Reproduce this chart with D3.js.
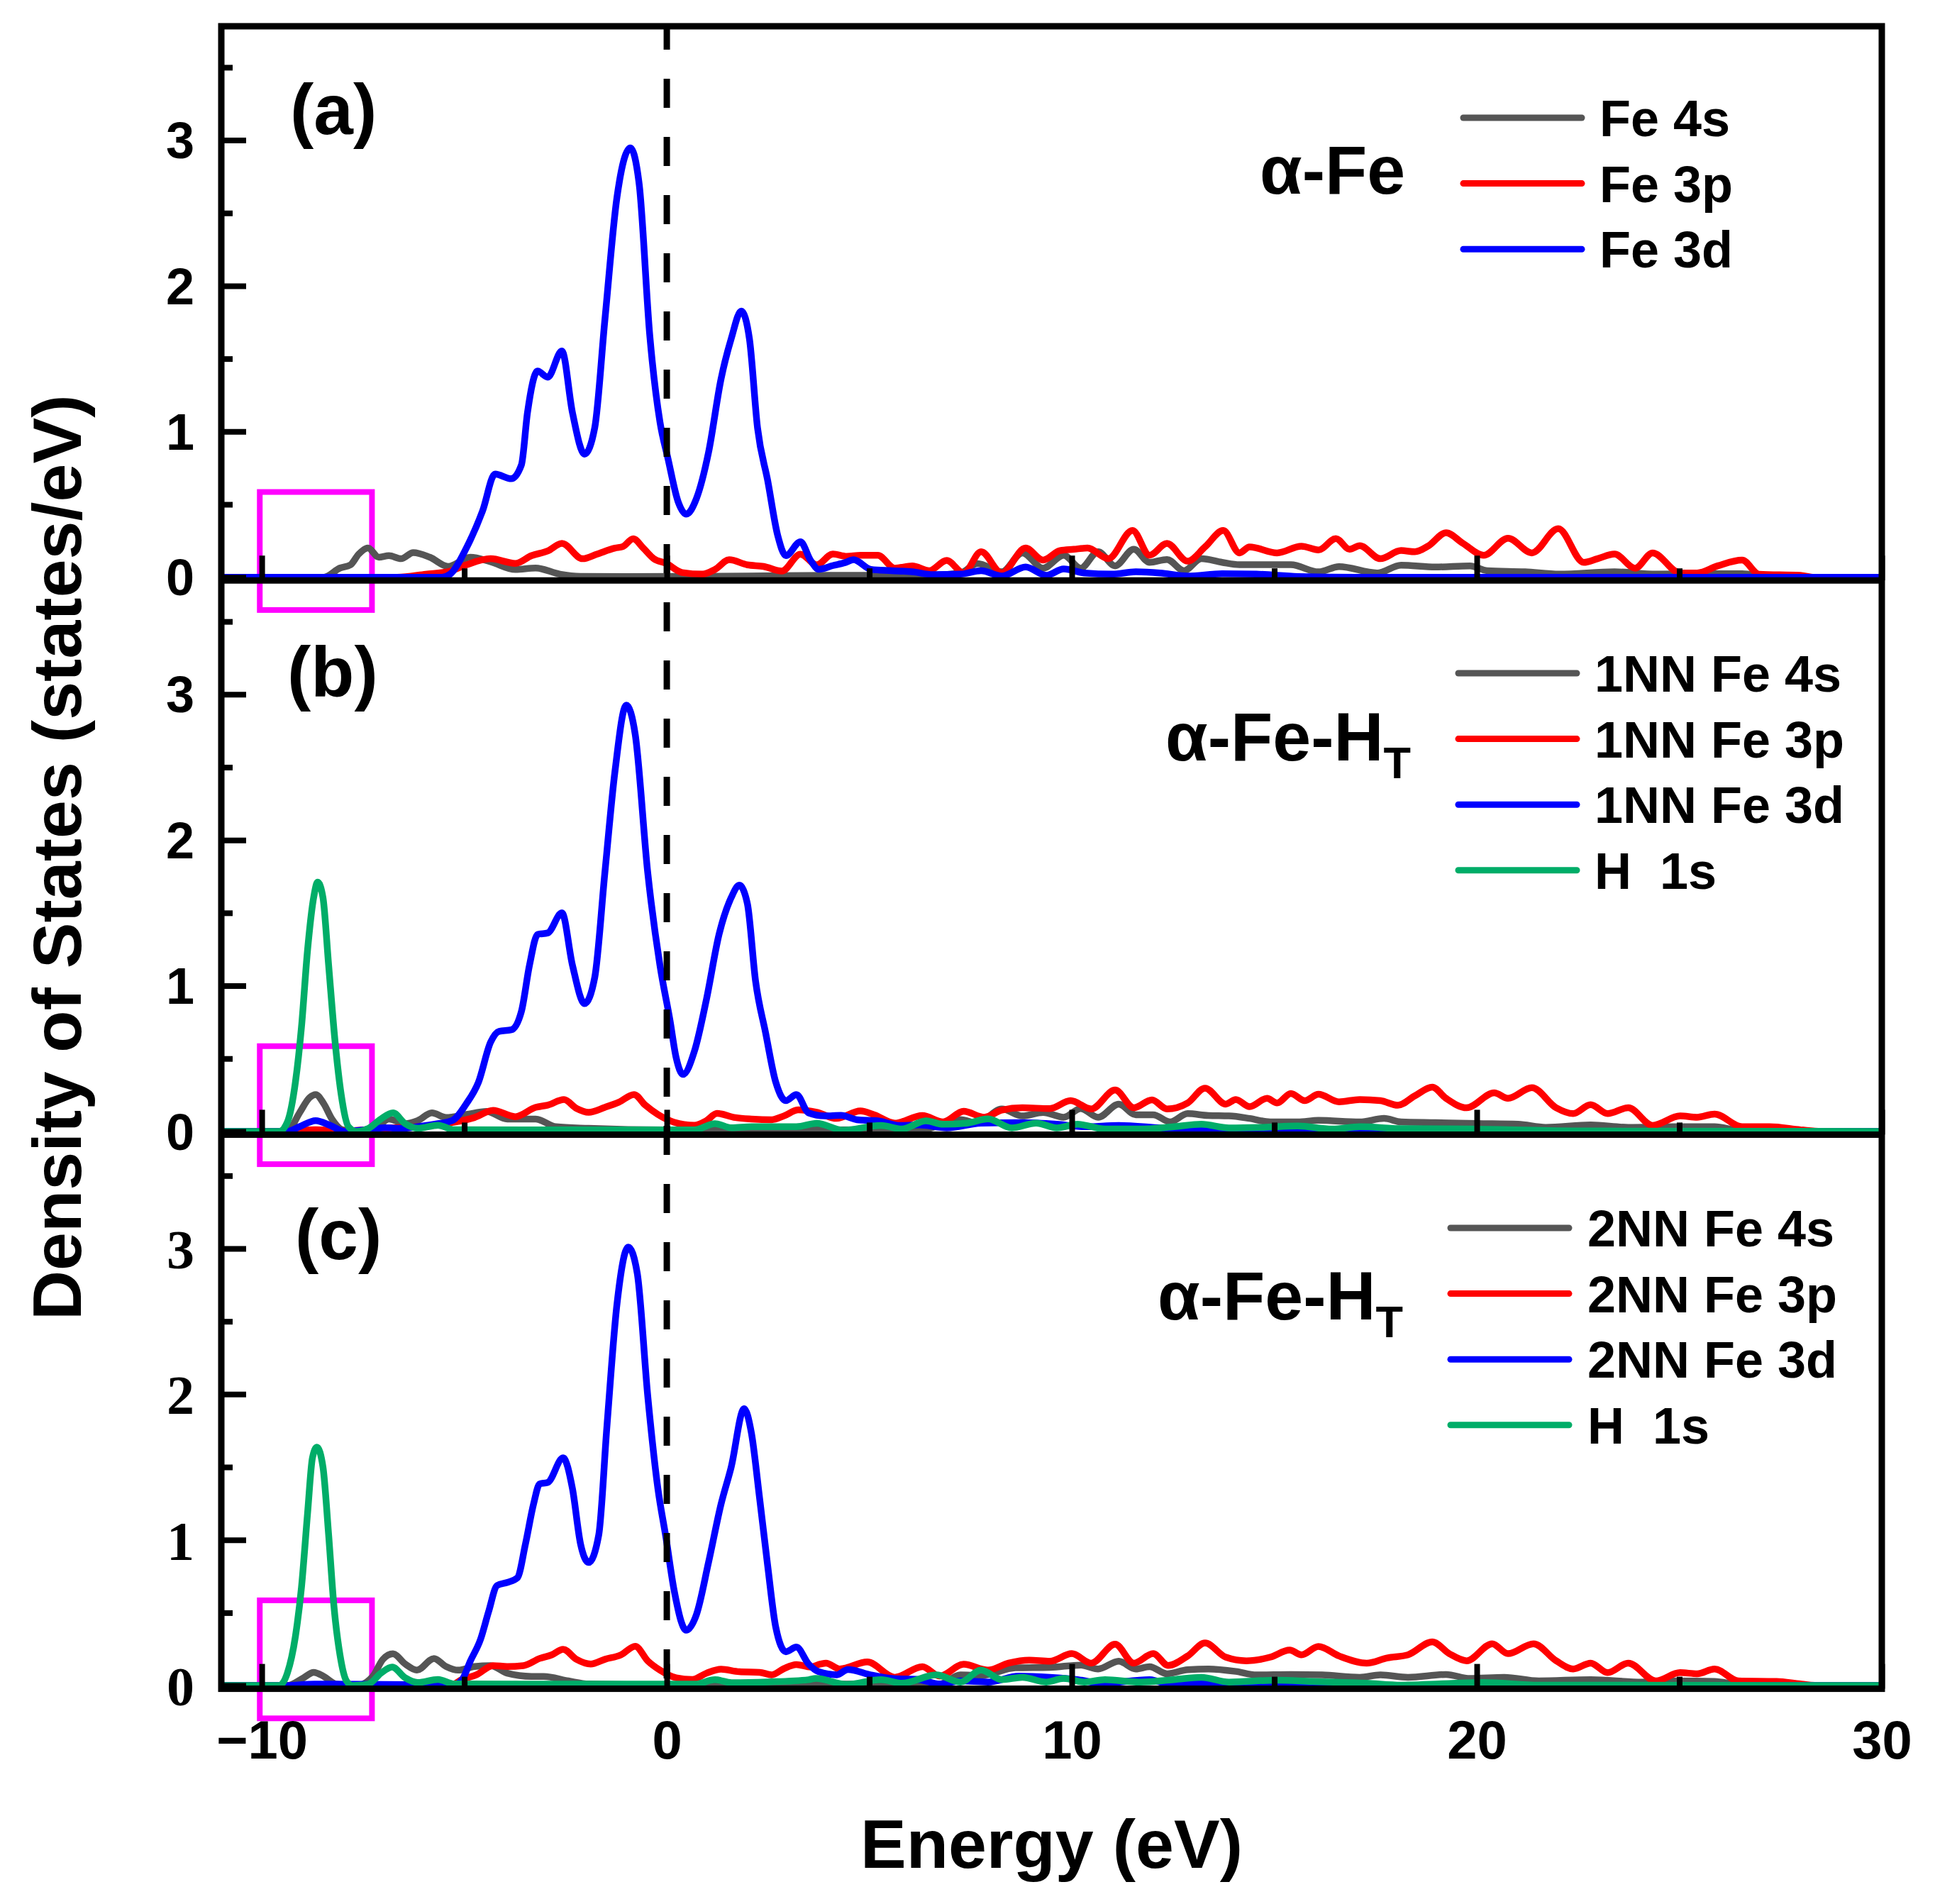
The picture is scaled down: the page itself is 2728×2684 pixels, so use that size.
<!DOCTYPE html>
<html>
<head>
<meta charset="utf-8">
<script src="https://cdn.jsdelivr.net/npm/d3@7"></script>
<style>
  body { margin: 0; background: #fff; }
  svg { display: block; }
</style>
</head>
<body>
<script>
// ---- data: [energy (eV), DOS (states/eV)] ----
const energyDomain = [-11, 30];
const dosDomain = [-0.022, 3.782];
const xMajor = [-10, 0, 10, 20, 30];
const xMinor = [-5, 5, 15, 25];
const yMajor = [0, 1, 2, 3];
const yMinor = [0.5, 1.5, 2.5, 3.5];
const boxEnergy = [-10.05, -7.28];
const boxDos = [-0.225, 0.585];

// (a) alpha-Fe
const aFe4s = [[-11,0],[-8.47,0],[-8.07,0.063],[-7.81,0.085],[-7.61,0.158],[-7.38,0.2],[-7.11,0.137],[-6.86,0.148],[-6.56,0.127],[-6.26,0.169],[-5.85,0.137],[-5.4,0.074],[-4.85,0.137],[-4.35,0.106],[-3.74,0.053],[-3.24,0.063],[-2.64,0.021],[-2.13,0.006],[-1,0.005],[2,0.008],[4,0.013],[6.5,0.013],[7.25,0.029],[7.67,0.094],[8.27,0.037],[8.78,0.167],[9.29,0.062],[9.8,0.151],[10.22,0.062],[10.65,0.175],[11.07,0.078],[11.53,0.192],[11.92,0.102],[12.35,0.122],[12.77,0.045],[13.2,0.127],[13.71,0.102],[14.14,0.086],[14.73,0.086],[15.41,0.086],[16.09,0.037],[16.6,0.073],[17.54,0.029],[18.13,0.083],[18.98,0.07],[19.83,0.078],[20.26,0.045],[21.19,0.037],[22.04,0.021],[23.4,0.037],[24.42,0.021],[25.78,0.024],[26.55,0.024],[27.14,0.005],[28,0],[30,0]];
const aFe3p = [[-11,0],[-6.66,0],[-5.95,0.021],[-5.35,0.042],[-4.95,0.085],[-4.35,0.127],[-3.74,0.095],[-3.34,0.148],[-2.94,0.18],[-2.59,0.232],[-2.08,0.127],[-1.73,0.158],[-1.28,0.2],[-1.08,0.211],[-0.83,0.264],[-0.58,0.2],[-0.32,0.127],[-0.02,0.095],[0.38,0.032],[0.88,0.021],[1.19,0.053],[1.54,0.12],[1.99,0.085],[2.39,0.074],[2.84,0.042],[3.3,0.158],[3.7,0.085],[4.1,0.159],[4.44,0.143],[4.78,0.151],[5.21,0.151],[5.63,0.062],[6.06,0.078],[6.48,0.045],[6.91,0.115],[7.33,0.029],[7.76,0.175],[8.27,0.029],[8.86,0.2],[9.29,0.118],[9.71,0.183],[10.05,0.192],[10.39,0.2],[10.9,0.127],[11.5,0.321],[11.92,0.151],[12.35,0.232],[12.86,0.11],[13.29,0.208],[13.74,0.321],[14.14,0.167],[14.39,0.208],[15.07,0.167],[15.67,0.213],[16.09,0.187],[16.52,0.265],[16.86,0.192],[17.11,0.216],[17.62,0.127],[18.13,0.183],[18.47,0.175],[18.81,0.216],[19.24,0.305],[19.66,0.232],[20.17,0.151],[20.77,0.268],[21.36,0.167],[22.01,0.333],[22.64,0.102],[22.98,0.127],[23.4,0.159],[23.91,0.062],[24.34,0.167],[25.02,0.029],[25.44,0.029],[25.95,0.078],[26.55,0.118],[26.97,0.021],[27.99,0.013],[28.33,0],[30,0]];
const aFe3d = [[-11,0],[-5.55,0],[-5.35,0.021],[-4.95,0.2],[-4.55,0.454],[-4.24,0.708],[-3.84,0.676],[-3.59,0.771],[-3.44,1.13],[-3.19,1.415],[-2.94,1.373],[-2.59,1.553],[-2.33,1.13],[-2.03,0.845],[-1.78,1.025],[-1.53,1.764],[-1.23,2.609],[-0.9,2.947],[-0.68,2.693],[-0.42,1.658],[-0.17,1.067],[0.03,0.813],[0.28,0.518],[0.48,0.433],[0.73,0.539],[1.03,0.856],[1.34,1.362],[1.59,1.637],[1.84,1.827],[2.04,1.637],[2.24,1.025],[2.49,0.665],[2.74,0.285],[2.94,0.148],[3.3,0.243],[3.55,0.116],[3.75,0.055],[4.1,0.08],[4.4,0.1],[4.61,0.12],[5.04,0.054],[5.55,0.045],[6.06,0.037],[6.57,0.018],[7.25,0.021],[7.76,0.045],[8.27,0.008],[8.86,0.07],[9.37,0.013],[9.8,0.057],[10.31,0.029],[10.99,0.021],[11.58,0.037],[12.18,0.029],[12.86,0.008],[13.71,0.024],[14.56,0.021],[15.58,0.005],[17,0],[30,0]];

// (b) alpha-Fe-H_T, 1NN Fe and H
const bFe4s = [[-11,0],[-9.37,0],[-9.07,0.127],[-8.82,0.232],[-8.67,0.253],[-8.47,0.19],[-8.27,0.085],[-8.01,0.011],[-7.66,0],[-7.16,0.032],[-6.86,0.085],[-6.46,0.053],[-6.15,0.074],[-5.8,0.127],[-5.45,0.095],[-4.95,0.116],[-4.45,0.137],[-3.94,0.085],[-3.24,0.085],[-2.74,0.032],[-1.93,0.021],[0,0.01],[3,0.01],[5.2,0.012],[6.23,0.008],[7.25,0.081],[7.67,0.057],[8.27,0.154],[8.78,0.106],[9.29,0.13],[9.8,0.097],[10.22,0.157],[10.65,0.097],[11.16,0.187],[11.58,0.114],[12.01,0.114],[12.43,0.065],[12.86,0.122],[13.37,0.109],[13.88,0.106],[14.39,0.089],[14.9,0.065],[15.58,0.065],[16.09,0.076],[17.11,0.065],[17.71,0.089],[18.13,0.065],[18.98,0.06],[20,0.054],[21.02,0.049],[21.7,0.028],[22.81,0.044],[23.74,0.028],[24.93,0.032],[25.87,0.032],[26.46,0.008],[27.5,0],[30,0]];
const bFe3p = [[-11,0],[-9.4,0],[-8.67,0.011],[-8,0.003],[-6.96,0.021],[-5.75,0.042],[-5.25,0.063],[-4.75,0.095],[-4.29,0.144],[-3.74,0.101],[-3.24,0.165],[-2.94,0.18],[-2.54,0.218],[-2.23,0.158],[-1.93,0.131],[-1.53,0.165],[-1.18,0.201],[-0.81,0.253],[-0.53,0.18],[-0.22,0.116],[0.18,0.063],[0.68,0.042],[0.98,0.074],[1.24,0.123],[1.69,0.095],[2.09,0.085],[2.59,0.08],[2.89,0.106],[3.25,0.148],[3.7,0.131],[4.19,0.089],[4.78,0.141],[5.12,0.114],[5.63,0.057],[6.31,0.109],[6.82,0.065],[7.33,0.138],[7.84,0.097],[8.27,0.146],[8.78,0.162],[9.46,0.157],[9.97,0.211],[10.48,0.154],[11.07,0.284],[11.53,0.162],[11.98,0.216],[12.35,0.154],[12.86,0.195],[13.29,0.297],[13.8,0.187],[14.05,0.219],[14.39,0.17],[14.82,0.227],[15.07,0.195],[15.41,0.26],[15.75,0.211],[16.09,0.255],[16.6,0.203],[17.11,0.219],[17.62,0.211],[18.05,0.179],[18.47,0.244],[18.9,0.304],[19.24,0.227],[19.75,0.162],[20.43,0.265],[20.77,0.227],[21.36,0.3],[21.96,0.162],[22.38,0.122],[22.81,0.183],[23.23,0.122],[23.74,0.162],[24.34,0.041],[25.02,0.106],[25.44,0.097],[25.87,0.119],[26.55,0.032],[27.23,0.032],[27.99,0.011],[28.5,0],[30,0]];
const bFe3d = [[-11,0],[-9.37,0],[-9.07,0.032],[-8.67,0.074],[-8.32,0.042],[-7.96,0],[-7.46,0.011],[-6.96,0.025],[-6.56,0.021],[-6.15,0.032],[-5.65,0.053],[-5.3,0.074],[-4.95,0.19],[-4.65,0.338],[-4.35,0.613],[-4.14,0.687],[-3.84,0.697],[-3.59,0.824],[-3.39,1.141],[-3.19,1.352],[-2.94,1.362],[-2.59,1.5],[-2.33,1.141],[-2.03,0.877],[-1.78,1.056],[-1.53,1.774],[-1.28,2.471],[-1,2.926],[-0.78,2.725],[-0.47,1.774],[-0.17,1.141],[0.08,0.76],[0.23,0.507],[0.4,0.391],[0.68,0.549],[0.98,0.908],[1.29,1.352],[1.59,1.605],[1.79,1.69],[1.99,1.563],[2.19,1.035],[2.44,0.676],[2.69,0.338],[2.94,0.211],[3.2,0.253],[3.5,0.127],[3.9,0.106],[4.3,0.11],[4.7,0.08],[5.21,0.073],[5.72,0.041],[6.23,0.044],[6.91,0.024],[7.76,0.057],[8.78,0.06],[9.63,0.049],[10.31,0.032],[11.16,0.041],[12.18,0.024],[13.2,0.008],[15.58,0],[30,0]];
const bH1s = [[-11,0],[-9.57,0],[-9.37,0.063],[-9.17,0.338],[-9.02,0.718],[-8.87,1.246],[-8.72,1.605],[-8.62,1.711],[-8.49,1.605],[-8.35,1.141],[-8.19,0.613],[-8.04,0.253],[-7.86,0.032],[-7.66,0],[-7.36,0.021],[-7.06,0.085],[-6.76,0.127],[-6.46,0.053],[-6.15,0.021],[-5.65,0.042],[-5.25,0.011],[-3,0.01],[0.68,0.01],[1.19,0.053],[1.6,0.025],[2.09,0.032],[3.2,0.032],[3.7,0.055],[4.36,0.008],[5.29,0.041],[5.8,0.016],[6.4,0.073],[6.82,0.049],[7.42,0.057],[7.93,0.086],[8.52,0.024],[9.12,0.057],[9.63,0.024],[10.14,0.049],[10.82,0.016],[11.67,0.016],[12.52,0.032],[13.2,0.049],[13.88,0.024],[14.73,0.028],[15.58,0.037],[16.43,0.016],[17.11,0.032],[18.13,0.019],[19.83,0.016],[22.38,0.003],[30,0]];

// (c) alpha-Fe-H_T, 2NN Fe and H
const cFe4s = [[-11,0],[-9.37,0],[-8.97,0.053],[-8.72,0.091],[-8.47,0.063],[-8.17,0.011],[-7.66,0],[-7.26,0.063],[-7.01,0.18],[-6.76,0.218],[-6.46,0.148],[-6.17,0.106],[-5.75,0.186],[-5.45,0.131],[-5.15,0.106],[-4.75,0.131],[-4.35,0.137],[-3.94,0.085],[-3.34,0.063],[-3.04,0.063],[-2.43,0.032],[-1.93,0.011],[0,0.005],[3,0.01],[6.74,0.01],[7.25,0.073],[7.76,0.07],[8.61,0.122],[9.46,0.125],[10.22,0.141],[10.65,0.114],[11.16,0.167],[11.58,0.114],[11.92,0.13],[12.35,0.081],[12.86,0.109],[13.37,0.114],[14.05,0.097],[14.56,0.073],[15.41,0.076],[16.18,0.073],[17.11,0.057],[17.62,0.073],[18.3,0.057],[19.24,0.076],[19.83,0.049],[20.68,0.057],[21.53,0.032],[22.81,0.041],[24.08,0.024],[24.93,0.032],[25.87,0.028],[26.46,0.008],[27.5,0],[30,0]];
const cFe3p = [[-11,0],[-5.35,0],[-5.05,0.042],[-4.7,0.074],[-4.29,0.137],[-3.94,0.131],[-3.54,0.137],[-3.14,0.186],[-2.84,0.211],[-2.56,0.249],[-2.23,0.18],[-1.88,0.148],[-1.53,0.18],[-1.13,0.211],[-0.78,0.27],[-0.47,0.169],[-0.17,0.106],[0.23,0.053],[0.63,0.042],[0.98,0.085],[1.34,0.112],[1.79,0.095],[2.29,0.091],[2.59,0.074],[2.89,0.116],[3.2,0.144],[3.55,0.127],[3.8,0.148],[3.93,0.154],[4.27,0.114],[4.95,0.162],[5.63,0.057],[6.31,0.13],[6.74,0.065],[7.33,0.146],[7.93,0.106],[8.44,0.154],[8.95,0.174],[9.46,0.167],[10,0.219],[10.48,0.154],[11.07,0.284],[11.53,0.154],[12.01,0.219],[12.38,0.138],[12.86,0.203],[13.29,0.292],[13.8,0.195],[14.31,0.17],[14.9,0.195],[15.38,0.244],[15.67,0.211],[16.09,0.268],[16.6,0.203],[17.28,0.154],[17.79,0.19],[18.3,0.211],[18.9,0.3],[19.32,0.219],[19.75,0.17],[20.38,0.287],[20.77,0.219],[21.4,0.287],[21.96,0.17],[22.38,0.114],[22.81,0.154],[23.23,0.089],[23.74,0.154],[24.42,0.032],[25.02,0.089],[25.44,0.081],[25.87,0.114],[26.46,0.032],[27.4,0.028],[27.99,0.011],[28.5,0],[30,0]];
const cFe3d = [[-11,0],[-9.4,0],[-8.7,0.01],[-7,0.008],[-5.25,0.005],[-5.05,0.042],[-4.85,0.169],[-4.6,0.317],[-4.4,0.507],[-4.19,0.687],[-3.94,0.708],[-3.69,0.739],[-3.49,0.972],[-3.29,1.246],[-3.14,1.384],[-2.94,1.394],[-2.56,1.563],[-2.33,1.352],[-2.13,0.972],[-1.93,0.845],[-1.68,1.035],[-1.48,1.774],[-1.23,2.619],[-0.95,3.01],[-0.73,2.831],[-0.47,1.986],[-0.22,1.352],[-0.02,1.014],[0.18,0.655],[0.48,0.38],[0.73,0.486],[1.03,0.845],[1.34,1.246],[1.59,1.5],[1.91,1.901],[2.09,1.732],[2.29,1.289],[2.49,0.824],[2.69,0.401],[2.94,0.232],[3.2,0.264],[3.5,0.148],[3.75,0.095],[4.2,0.074],[4.47,0.11],[5.04,0.073],[5.55,0.049],[6.23,0.041],[6.74,0.011],[7.25,0.032],[7.93,0.024],[8.69,0.065],[9.46,0.057],[10.14,0.041],[10.73,0.016],[11.92,0.041],[12.52,0],[13.2,0.024],[13.88,0.005],[15,0],[30,0]];
const cH1s = [[-11,0],[-9.57,0],[-9.37,0.085],[-9.17,0.338],[-9.02,0.676],[-8.87,1.183],[-8.75,1.563],[-8.64,1.637],[-8.49,1.5],[-8.35,1.035],[-8.22,0.549],[-8.07,0.211],[-7.91,0.032],[-7.76,0],[-7.36,0.011],[-7.06,0.085],[-6.78,0.127],[-6.46,0.053],[-6.15,0.021],[-5.65,0.042],[-5.25,0.011],[-3,0.01],[0.7,0.01],[1.19,0.04],[1.6,0.02],[2.5,0.025],[3.5,0.04],[3.68,0.049],[4.44,0.008],[5.29,0.041],[5.8,0.016],[6.65,0.073],[7.25,0.024],[7.76,0.106],[8.27,0.041],[8.78,0.057],[9.37,0.024],[9.8,0.049],[10.31,0.024],[10.82,0.041],[11.67,0.024],[12.52,0.041],[13.2,0.057],[13.88,0.024],[15.07,0.037],[15.92,0.028],[17.28,0.016],[18.13,0.003],[20.17,0.021],[21.53,0.003],[30,0]];

const panelTags = ["(a)", "(b)", "(c)"];
const systemNames = ["α-Fe", "α-Fe-H", "α-Fe-H"];
const systemSubs = ["", "T", "T"];
const legendA = ["Fe 4s", "Fe 3p", "Fe 3d"];
const legendB = ["1NN Fe 4s", "1NN Fe 3p", "1NN Fe 3d", "H  1s"];
const legendC = ["2NN Fe 4s", "2NN Fe 3p", "2NN Fe 3d", "H  1s"];

const xTitle = "Energy (eV)";
const yTitle = "Density of States (states/eV)";

// ---- layout ----
const svgW = 2728, svgH = 2684;
const plotL = 312, plotR = 2653, plotT = 37, panelH = 781.2;
const sans = "'Liberation Sans', Arial, sans-serif";
const serif = "'Liberation Serif', 'Times New Roman', serif";
const colors = { s4: "#555555", p3: "#ff0000", d3: "#0000ff", h1s: "#00ad68" };

const panels = [
  { series: [aFe4s, aFe3p, aFe3d], legend: legendA, tickFont: sans, tickSize: 72,
    tag: { x: 409, y: 189 }, name: { x: 1776, y: 273 },
    leg: { x1: 2063, x2: 2230, tx: 2255, y: 166 } },
  { series: [bFe4s, bFe3p, bFe3d, bH1s], legend: legendB, tickFont: sans, tickSize: 72,
    tag: { x: 405, y: 982 }, name: { x: 1643, y: 1072 },
    leg: { x1: 2056, x2: 2223, tx: 2248, y: 949 } },
  { series: [cFe4s, cFe3p, cFe3d, cH1s], legend: legendC, tickFont: serif, tickSize: 78,
    tag: { x: 416, y: 1775 }, name: { x: 1632, y: 1860 },
    leg: { x1: 2045, x2: 2212, tx: 2238, y: 1731 } }
];
const seriesColors = [colors.s4, colors.p3, colors.d3, colors.h1s];

const svg = d3.select("body").append("svg")
  .attr("width", svgW).attr("height", svgH)
  .attr("viewBox", `0 0 ${svgW} ${svgH}`);

const x = d3.scaleLinear().domain(energyDomain).range([plotL, plotR]);

panels.forEach((p, i) => {
  const top = plotT + i * panelH;
  const bottom = top + panelH;
  const y = d3.scaleLinear().domain(dosDomain).range([bottom, top]);
  const g = svg.append("g");

  // magenta region box
  g.append("rect")
    .attr("x", x(boxEnergy[0])).attr("y", y(boxDos[1]))
    .attr("width", x(boxEnergy[1]) - x(boxEnergy[0]))
    .attr("height", y(boxDos[0]) - y(boxDos[1]))
    .attr("fill", "none").attr("stroke", "#ff00ff").attr("stroke-width", 8);

  // curves
  const line = d3.line()
    .x(d => x(d[0])).y(d => y(d[1]))
    .curve(d3.curveMonotoneX);
  p.series.forEach((s, k) => {
    g.append("path").datum(s)
      .attr("d", line)
      .attr("fill", "none")
      .attr("stroke", seriesColors[k])
      .attr("stroke-width", 9.5)
      .attr("stroke-linejoin", "round");
  });

  // y axis: major ticks with labels, minor ticks
  const yAx = g.append("g").attr("transform", `translate(${plotL},0)`)
    .call(d3.axisLeft(y).tickValues(yMajor).tickFormat(d3.format("d"))
      .tickSizeInner(-35).tickSizeOuter(0).tickPadding(38));
  yAx.selectAll("text").attr("font-family", p.tickFont).attr("font-weight", "bold")
    .attr("font-size", p.tickSize).attr("dy", "0.35em").attr("fill", "#000");
  g.append("g").attr("transform", `translate(${plotL},0)`)
    .call(d3.axisLeft(y).tickValues(yMinor).tickSizeInner(-16).tickSizeOuter(0).tickFormat(""));

  // x axis ticks (inside), labels only on the bottom panel
  const xAx = g.append("g").attr("transform", `translate(0,${bottom})`)
    .call(d3.axisBottom(x).tickValues(xMajor).tickSizeInner(-35).tickSizeOuter(0).tickPadding(44)
      .tickFormat(i === panels.length - 1 ? (d => d < 0 ? "\u2212" + Math.abs(d) : String(d)) : ""));
  xAx.selectAll("text").attr("font-family", sans).attr("font-weight", "bold")
    .attr("font-size", 76).attr("fill", "#000");
  g.append("g").attr("transform", `translate(0,${bottom})`)
    .call(d3.axisBottom(x).tickValues(xMinor).tickSizeInner(-17).tickSizeOuter(0).tickFormat(""));

  g.selectAll(".domain").remove();
  g.selectAll(".tick line").attr("stroke", "#000").attr("stroke-width", 8);

  // panel separator / bottom axis line
  g.append("line")
    .attr("x1", plotL).attr("x2", plotR).attr("y1", bottom).attr("y2", bottom)
    .attr("stroke", "#000").attr("stroke-width", 9);

  // panel tag
  g.append("text").attr("x", p.tag.x).attr("y", p.tag.y)
    .attr("font-family", sans).attr("font-weight", "bold").attr("font-size", 100)
    .text(panelTags[i]);

  // system name with optional subscript
  const nm = g.append("text").attr("x", p.name.x).attr("y", p.name.y)
    .attr("font-family", sans).attr("font-weight", "bold").attr("font-size", 97);
  nm.append("tspan").text(systemNames[i]);
  if (systemSubs[i]) {
    nm.append("tspan").attr("font-size", 63).attr("dy", 25).text(systemSubs[i]);
  }

  // legend
  p.legend.forEach((lab, k) => {
    const ly = p.leg.y + k * 92.6;
    g.append("line")
      .attr("x1", p.leg.x1).attr("x2", p.leg.x2).attr("y1", ly).attr("y2", ly)
      .attr("stroke", seriesColors[k]).attr("stroke-width", 9).attr("stroke-linecap", "round");
    g.append("text").attr("x", p.leg.tx).attr("y", ly + 26)
      .attr("font-family", sans).attr("font-weight", "bold").attr("font-size", 72)
      .style("white-space", "pre")
      .text(lab);
  });
});

// Fermi level dashed line
svg.append("line")
  .attr("x1", x(0)).attr("x2", x(0))
  .attr("y1", plotT).attr("y2", plotT + 3 * panelH)
  .attr("stroke", "#000").attr("stroke-width", 9)
  .attr("stroke-dasharray", "41 41").attr("stroke-dashoffset", 8);

// outer frame
svg.append("rect")
  .attr("x", plotL).attr("y", plotT)
  .attr("width", plotR - plotL).attr("height", 3 * panelH)
  .attr("fill", "none").attr("stroke", "#000").attr("stroke-width", 9);

// axis titles
svg.append("text")
  .attr("x", (plotL + plotR) / 2).attr("y", 2633)
  .attr("text-anchor", "middle")
  .attr("font-family", sans).attr("font-weight", "bold").attr("font-size", 97)
  .text(xTitle);

svg.append("text")
  .attr("transform", `translate(114,${plotT + 1.5 * panelH}) rotate(-90)`)
  .attr("text-anchor", "middle")
  .attr("font-family", sans).attr("font-weight", "bold").attr("font-size", 97)
  .text(yTitle);
</script>
</body>
</html>
